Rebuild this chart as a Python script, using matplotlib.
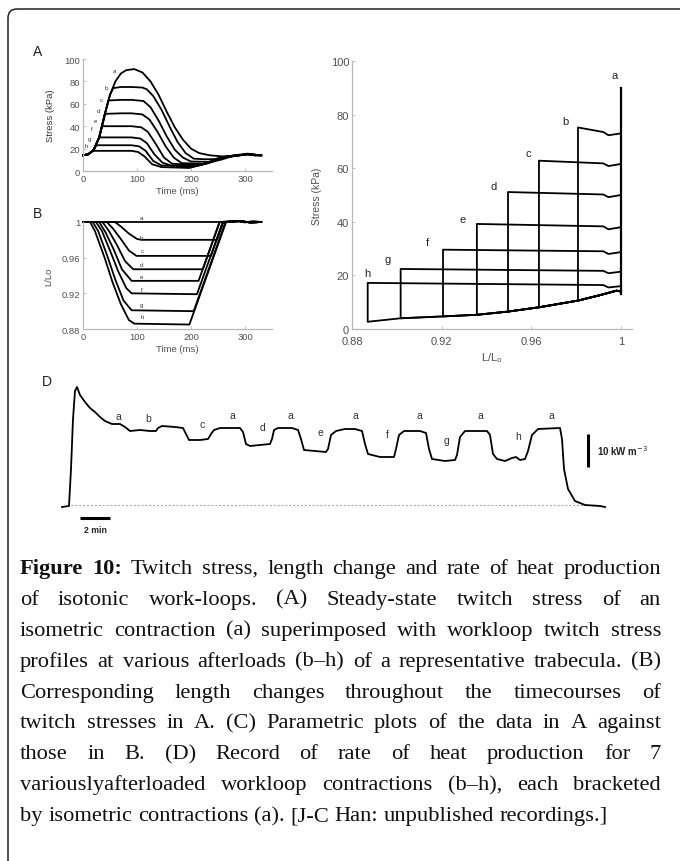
import matplotlib
matplotlib.use("Agg")
import matplotlib.pyplot as plt
from matplotlib.patches import FancyBboxPatch

plt.rcParams['font.family'] = ['Liberation Sans', 'DejaVu Sans']

# ---------- panel A: twitch stress (kPa) against time (ms)
sa_t = [0, 10, 20, 30, 40, 50, 60, 70, 80, 95, 110, 125, 140, 155, 170, 185, 200, 215, 235, 260, 285, 305, 318, 330]
sa = [14, 15, 19, 30, 50, 68, 80, 87, 90, 91, 88, 80, 68, 53, 39, 28, 20, 16, 14, 13, 14, 15, 14.5, 14]
sb_t = [0, 10, 20, 30, 40, 50, 56, 70, 90, 110, 118, 130, 145, 160, 175, 190, 205, 225, 248, 262, 280, 305, 318, 330]
sb = [14, 15, 19, 30, 50, 68, 74, 75, 75, 74.5, 73, 67, 55, 40, 26, 16, 11, 10.5, 10.6, 12, 14, 15.5, 14.5, 14]
sc_t = [0, 10, 20, 30, 40, 47, 70, 90, 112, 125, 140, 155, 170, 185, 200, 237, 255, 275, 305, 318, 330]
sc = [14, 15, 19, 30, 50, 63, 63.5, 63.5, 62.5, 57, 45, 31, 19, 12, 8.5, 8.1, 10, 13, 15, 14, 14]
sd_t = [0, 10, 20, 30, 41, 70, 90, 110, 123, 138, 153, 168, 183, 222, 240, 265, 305, 318, 330]
sd = [14, 15, 19, 30, 51, 51.5, 51.5, 50.5, 46, 35, 22, 12, 7, 6.5, 8.5, 13, 15, 14.5, 14]
se_t = [0, 10, 20, 30, 35, 60, 90, 108, 120, 135, 150, 165, 214, 235, 260, 305, 318, 330]
se = [14, 15, 19, 30, 40, 40, 40, 39, 35, 24, 12, 6.5, 5.3, 7.5, 12, 15, 14, 14]
sf_t = [0, 10, 20, 30, 60, 90, 106, 118, 132, 147, 162, 211, 232, 258, 305, 318, 330]
sf = [14, 15, 19, 30, 30, 30, 29, 25, 15, 7.5, 5, 4.7, 7, 12, 15, 14.5, 14]
sg_t = [0, 10, 20, 25, 60, 90, 104, 116, 130, 145, 205, 228, 255, 305, 318, 330]
sg = [14, 15, 19, 23, 23, 23, 22, 18, 9, 5, 4.0, 6.5, 12, 15, 14, 14]
sh_t = [0, 10, 19, 60, 90, 102, 114, 128, 145, 197, 222, 250, 305, 318, 330]
sh = [14, 15, 18, 18, 18, 17, 13, 6, 3.5, 2.7, 6, 11.5, 15, 14.5, 14]

# ---------- panel B: length (L/Lo) against time (ms)
la_t = [0, 270, 285, 300, 315, 330]
la = [1, 1, 1.001, 0.9995, 1.001, 1]
lb_t = [0, 59, 70, 85, 100, 108, 248, 260, 290, 310, 330]
lb = [1, 1, 0.995, 0.987, 0.981, 0.980, 0.980, 1.0, 1.001, 0.9995, 1.0]
lc_t = [0, 44, 55, 70, 85, 99, 237, 259, 290, 310, 330]
lc = [1, 1, 0.993, 0.981, 0.968, 0.962, 0.962, 1.0, 1.001, 0.9995, 1]
ld_t = [0, 36, 48, 63, 78, 93, 222, 253, 290, 310, 330]
ld = [1, 1, 0.99, 0.974, 0.956, 0.947, 0.947, 1.0, 1.001, 0.9995, 1]
le_t = [0, 30, 42, 57, 72, 90, 214, 253, 290, 310, 330]
le = [1, 1, 0.988, 0.969, 0.947, 0.934, 0.934, 1.0, 1.001, 0.9995, 1]
lf_t = [0, 24, 35, 50, 65, 80, 90, 211, 259, 290, 310, 330]
lf = [1, 1, 0.99, 0.968, 0.945, 0.926, 0.92, 0.919, 1.0, 1.001, 0.9995, 1]
lg_t = [0, 18, 28, 45, 60, 75, 90, 205, 264, 290, 310, 330]
lg = [1, 1, 0.99, 0.962, 0.935, 0.912, 0.901, 0.900, 1.0, 1.001, 0.9995, 1]
lh_t = [0, 13, 22, 40, 55, 70, 85, 95, 197, 265, 290, 310, 330]
lh = [1, 1, 0.99, 0.96, 0.932, 0.908, 0.89, 0.886, 0.885, 1.0, 1.001, 0.9995, 1]

letters = ['a', 'b', 'c', 'd', 'e', 'f', 'g', 'h']
lblA_t = [59, 44, 34, 28, 23, 17, 11.5, 7]
lblA_s = [90, 75, 64, 54, 45, 38, 29, 23]
lblB_t = [109, 109, 109, 109, 109, 109, 109, 109]
lblB_l = [1.0045, 0.983, 0.968, 0.952, 0.939, 0.9245, 0.9075, 0.894]

# ---------- panel C: work-loops, stress against length
loop_a_len = [1.0, 1.0]
loop_a_s = [13, 90]
loop_b_len = [1.0, 1.0, 0.9944, 0.9921, 0.9808, 0.9808]
loop_b_s = [14, 73, 72.3, 73.5, 75.2, 10.6]
loop_c_len = [1.0, 1.0, 0.9944, 0.9921, 0.9634, 0.9634]
loop_c_s = [14, 61.6, 60.8, 61.8, 62.8, 8.1]
loop_d_len = [1.0, 1.0, 0.9944, 0.9921, 0.9496, 0.9496]
loop_d_s = [14, 50, 49.2, 50.2, 51.1, 6.5]
loop_e_len = [1.0, 1.0, 0.9944, 0.9921, 0.9357, 0.9357]
loop_e_s = [14, 38, 37.2, 38.3, 39.2, 5.3]
loop_f_len = [1.0, 1.0, 0.9944, 0.9921, 0.9206, 0.9206]
loop_f_s = [14, 28.7, 28.0, 29.0, 29.6, 4.7]
loop_g_len = [1.0, 1.0, 0.9944, 0.9921, 0.9017, 0.9017]
loop_g_s = [14, 21.4, 20.8, 21.7, 22.4, 4.0]
loop_h_len = [1.0, 1.0, 0.9944, 0.9921, 0.887, 0.887]
loop_h_s = [14, 16, 15.5, 16.4, 17.2, 2.7]
passive_len = [0.887, 0.9017, 0.9206, 0.9357, 0.9496, 0.9634, 0.9808, 0.990, 0.998, 1.0]
passive_s = [2.7, 4.0, 4.7, 5.3, 6.5, 8.1, 10.6, 12.5, 14.3, 14]
lblC_l = [0.9973, 0.975, 0.9585, 0.9433, 0.9295, 0.9135, 0.896, 0.8867]
lblC_s = [94.8, 77.6, 65.7, 53.4, 41, 32.5, 26, 21]

# ---------- panel D: rate of heat production (kW m^-3) against time (s)
heat_t = [0, 28, 36, 44, 52, 60, 72, 92, 112, 132, 152, 172, 200, 232, 252, 272, 312, 352, 376,
          384, 400, 452, 484, 496, 508, 552, 584, 596, 608, 632, 712, 724, 736, 752, 792, 832,
          840, 848, 864, 920, 944, 956, 968, 1012, 1056, 1064, 1076, 1096, 1132, 1172, 1200,
          1212, 1224, 1272, 1328, 1336, 1348, 1368, 1432, 1456, 1468, 1480, 1532, 1572, 1580,
          1592, 1612, 1700, 1712, 1724, 1740, 1772, 1800, 1816, 1832, 1852, 1864, 1880, 1904,
          1992, 2000, 2008, 2024, 2052, 2092, 2152, 2172]
heat_r = [-0.6, -0.3, 10.8, 25.8, 34.2, 35.4, 33.0, 30.9, 29.1, 27.9, 26.4, 25.2, 24.3, 24.3, 23.4,
          22.2, 22.5, 22.2, 22.2, 23.1, 23.7, 23.4, 23.1, 21.3, 19.5, 19.5, 19.8, 21.3, 22.5, 23.1,
          23.1, 21.9, 18.3, 17.7, 18.0, 18.3, 19.8, 22.5, 23.1, 23.1, 22.5, 19.8, 16.5, 16.2, 15.9,
          16.8, 21.0, 22.2, 22.8, 22.8, 22.2, 18.3, 15.3, 14.4, 14.4, 16.8, 21.0, 22.2, 22.2, 21.6,
          16.8, 13.8, 13.2, 13.5, 15.0, 20.4, 22.2, 22.2, 21.0, 15.3, 13.8, 13.2, 14.1, 14.4, 13.5,
          13.8, 16.2, 21.0, 22.8, 23.1, 19.8, 10.8, 4.8, 1.2, 0, -0.3, -0.6]
lblD_text = ['a', 'b', 'c', 'a', 'd', 'a', 'e', 'a', 'f', 'a', 'g', 'a', 'h', 'a']
lblD_t = [224, 344, 560, 680, 800, 912, 1032, 1172, 1300, 1428, 1540, 1672, 1824, 1956]
lblD_r = [26.7, 26.1, 24.3, 27.0, 23.4, 27.0, 21.9, 27.0, 21.3, 27.0, 19.5, 27.0, 20.7, 27.0]

caption = [
    "Figure 10: Twitch stress, length change and rate of heat production",
    "of isotonic work-loops. (A) Steady-state twitch stress of an",
    "isometric contraction (a) superimposed with workloop twitch stress",
    "profiles at various afterloads (b\u2013h) of a representative trabecula. (B)",
    "Corresponding length changes throughout the timecourses of",
    "twitch stresses in A. (C) Parametric plots of the data in A against",
    "those in B. (D) Record of rate of heat production for 7",
    "variouslyafterloaded workloop contractions (b\u2013h), each bracketed",
    "by isometric contractions (a). [J-C Han: unpublished recordings.]",
]

W, H = 680, 862
fig = plt.figure(figsize=(6.8, 8.62), dpi=100)


def add_ax(x0, y0, x1, y1):
    return fig.add_axes([x0 / W, 1 - y1 / H, (x1 - x0) / W, (y1 - y0) / H])


def style(ax, size):
    ax.patch.set_alpha(0)
    for side in ['top', 'right']:
        ax.spines[side].set_visible(False)
    for side in ['left', 'bottom']:
        ax.spines[side].set_color('#b8b8b8')
        ax.spines[side].set_linewidth(0.9)
    ax.tick_params(direction='in', length=2.5, width=0.6, colors='#b8b8b8',
                   labelcolor='#505050', labelsize=size, pad=2)


bg = fig.add_axes([0, 0, 1, 1])
bg.set_xlim(0, W)
bg.set_ylim(H, 0)
bg.axis('off')
bg.add_patch(FancyBboxPatch((8, 10), 720, 900, boxstyle='round,pad=0,rounding_size=9',
                            fill=False, ec='#222222', lw=1.1))

lw = 1.3

# A
axA = add_ax(83, 60, 272, 172)
style(axA, 6.8)
for t, s in [(sa_t, sa), (sb_t, sb), (sc_t, sc), (sd_t, sd), (se_t, se), (sf_t, sf), (sg_t, sg), (sh_t, sh)]:
    axA.plot(t, s, color='black', lw=lw, solid_joinstyle='round', clip_on=False)
for k, lt, ls in zip(letters, lblA_t, lblA_s):
    axA.text(lt, ls, k, fontsize=4.5, color='#333333', ha='center', va='center')
axA.set_xlim(0, 350)
axA.set_ylim(0, 100)
axA.set_xticks([0, 100, 200, 300])
axA.set_yticks([0, 20, 40, 60, 80, 100])
axA.set_xlabel('Time (ms)', fontsize=6.8, color='#505050', labelpad=2)
axA.set_ylabel('Stress (kPa)', fontsize=6.8, color='#333333', labelpad=7)

# B
axB = add_ax(83, 223, 272, 330)
style(axB, 6.8)
for t, l in [(la_t, la), (lb_t, lb), (lc_t, lc), (ld_t, ld), (le_t, le), (lf_t, lf), (lg_t, lg), (lh_t, lh)]:
    axB.plot(t, l, color='black', lw=lw, solid_joinstyle='round', clip_on=False)
for k, lt, ll in zip(letters, lblB_t, lblB_l):
    axB.text(lt, ll, k, fontsize=4.5, color='#333333', ha='center', va='center')
axB.set_xlim(0, 350)
axB.set_ylim(0.88, 1.0)
axB.set_xticks([0, 100, 200, 300])
axB.set_yticks([0.88, 0.92, 0.96, 1.0])
axB.set_yticklabels(['0.88', '0.92', '0.96', '1'])
axB.set_xlabel('Time (ms)', fontsize=6.8, color='#505050', labelpad=2)
axB.set_ylabel('L/Lo', fontsize=6.8, color='#505050', labelpad=6)

# C
axC = add_ax(352, 62, 632, 330)
style(axC, 8)
axC.tick_params(axis='x', pad=5)
axC.plot(loop_a_len, loop_a_s, color='black', lw=lw + 0.3, clip_on=False)
loops = [(loop_b_len, loop_b_s), (loop_c_len, loop_c_s), (loop_d_len, loop_d_s), (loop_e_len, loop_e_s),
         (loop_f_len, loop_f_s), (loop_g_len, loop_g_s), (loop_h_len, loop_h_s)]
for ll, ss in loops:
    xs = list(ll) + [p for p in passive_len if p > ll[-1]]
    ys = list(ss) + [q for p, q in zip(passive_len, passive_s) if p > ll[-1]]
    axC.plot(xs, ys, color='black', lw=lw, solid_joinstyle='round', clip_on=False)
for k, cl, cs in zip(letters, lblC_l, lblC_s):
    axC.text(cl, cs, k, fontsize=8, color='#222222', ha='center', va='center')
axC.set_xlim(0.88, 1.0049)
axC.set_ylim(0, 100)
axC.set_xticks([0.88, 0.92, 0.96, 1.0])
axC.set_xticklabels(['0.88', '0.92', '0.96', '1'])
axC.set_yticks([0, 20, 40, 60, 80, 100])
axC.set_xlabel('L/L$_\\mathregular{o}$', fontsize=8, color='#505050', labelpad=3)
axC.set_ylabel('Stress (kPa)', fontsize=7.5, color='#505050', labelpad=6)

# D
axD = add_ax(50, 380, 670, 540)
axD.axis('off')
axD.set_xlim(-48, 2432)
axD.set_ylim(-10.2, 37.8)
axD.axhline(0, xmin=(20 + 48) / 2480, xmax=(2150 + 48) / 2480, color='#aaaaaa', lw=0.8, ls=(0, (2, 1.5)))
axD.plot(heat_t, heat_r, color='black', lw=1.3, solid_joinstyle='round')
for k, lt, lr in zip(lblD_text, lblD_t, lblD_r):
    axD.text(lt, lr, k, fontsize=7.5, color='#333333', ha='center', va='center')
axD.plot([72, 192], [-3.9, -3.9], color='black', lw=2.2, solid_capstyle='butt')
axD.text(132, -7.4, '2 min', fontsize=6.3, fontweight='bold', ha='center', va='center', color='#222222')
axD.plot([2104, 2104], [11.4, 21.4], color='black', lw=2.2, solid_capstyle='butt')
axD.text(2140, 16.4, '10 kW m$^{-3}$', fontsize=7, fontweight='bold', ha='left', va='center', color='#222222')

# panel letters
for lab, x, y in [('A', 38, 52), ('B', 38, 214), ('D', 47, 382)]:
    bg.text(x, y, lab, fontsize=10, ha='center', va='center', color='#222222')

# caption, justified
renderer = fig.canvas.get_renderer()
cap_left, cap_right = 20, 661
cap_y0, cap_dy = 574, 30.9
cap_size = 16.2
for i, line in enumerate(caption):
    words = line.split(' ')
    texts = []
    for j, w in enumerate(words):
        bold = i == 0 and j < 2
        texts.append(bg.text(0, cap_y0 + i * cap_dy, w, fontsize=cap_size, family='Liberation Serif',
                             fontweight='bold' if bold else 'normal', va='baseline', ha='left', color='#111111'))
    widths = [t.get_window_extent(renderer).width for t in texts]
    if i < len(caption) - 1:
        gap = (cap_right - cap_left - sum(widths)) / (len(words) - 1)
    else:
        gap = cap_size * 0.25 * 100 / 72
    x = cap_left
    for t, w in zip(texts, widths):
        t.set_x(x)
        x += w + gap

fig.savefig('out.png', dpi=100)
